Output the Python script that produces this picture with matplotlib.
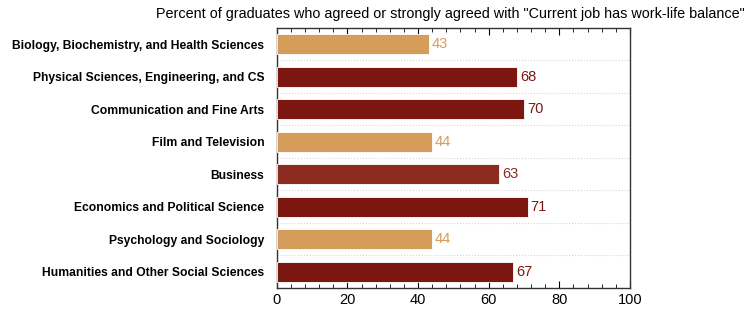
import matplotlib.pyplot as plt
from matplotlib.ticker import MultipleLocator

plt.rcParams['font.family'] = ['Liberation Sans', 'DejaVu Sans']

majors = ['Biology, Biochemistry, and Health Sciences',
          'Physical Sciences, Engineering, and CS',
          'Communication and Fine Arts',
          'Film and Television',
          'Business',
          'Economics and Political Science',
          'Psychology and Sociology',
          'Humanities and Other Social Sciences']
values = [43, 68, 70, 44, 63, 71, 44, 67]
colors = ['#D69C5A', '#7B1611', '#7B1611', '#D69C5A', '#8C2B1F', '#7B1611', '#D69C5A', '#7B1611']

fig = plt.figure(figsize=(7.5, 3.14), dpi=100)
ax = fig.add_axes([0.369, 0.083, 0.471, 0.828])

y = list(range(len(majors)))
ax.barh(y, values, height=0.62, color=colors, edgecolor='white', linewidth=0.6, zorder=3)
for yi, v, c in zip(y, values, colors):
    ax.text(v + 0.8, yi, str(v), va='center', ha='left', fontsize=10.5, color=c)

ax.set_xlim(0, 100)
ax.set_ylim(7.5, -0.5)
ax.set_yticks(y)
ax.set_yticklabels(majors, fontsize=8.7, fontweight='bold')
ax.tick_params(axis='y', length=0, pad=9)
ax.xaxis.set_major_locator(MultipleLocator(20))
ax.xaxis.set_minor_locator(MultipleLocator(4))
ax.tick_params(axis='x', which='both', direction='in', top=True, labelsize=10.5)
ax.tick_params(axis='x', which='major', length=5)
ax.tick_params(axis='x', which='minor', length=3)
for b in [i + 0.5 for i in range(len(majors) - 1)]:
    ax.axhline(b, color='#d5d5d5', linestyle=':', linewidth=0.8, zorder=1)
for s in ax.spines.values():
    s.set_linewidth(1.0)
    s.set_color('#333333')

fig.text(0.993, 0.955, 'Percent of graduates who agreed or strongly agreed with "Current job has work-life balance"',
         ha='right', va='center', fontsize=10.36)

fig.savefig('out.png', dpi=100)
